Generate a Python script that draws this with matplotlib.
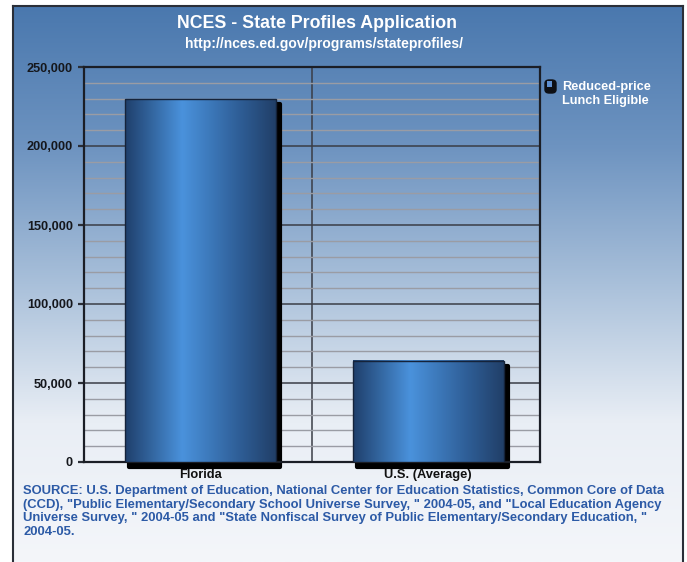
import numpy as np
import matplotlib.pyplot as plt
from matplotlib.patches import Rectangle, FancyBboxPatch
from matplotlib import transforms
from matplotlib.colors import LinearSegmentedColormap

plt.rcParams['font.family'] = ['Liberation Sans', 'DejaVu Sans']
plt.rcParams['font.weight'] = 'bold'

# data
categories = ['Florida', 'U.S. (Average)']
values = [229500, 64000]
series_name = 'Reduced-price\nLunch Eligible'
yticks = [0, 50000, 100000, 150000, 200000, 250000]
title = 'NCES - State Profiles Application'
subtitle = 'http://nces.ed.gov/programs/stateprofiles/'
source = ('SOURCE: U.S. Department of Education, National Center for Education Statistics, Common Core of Data\n'
          '(CCD), "Public Elementary/Secondary School Universe Survey, " 2004-05, and "Local Education Agency\n'
          'Universe Survey, " 2004-05 and "State Nonfiscal Survey of Public Elementary/Secondary Education, "\n'
          '2004-05.')

W, H = 687, 562
fig = plt.figure(figsize=(W / 100, H / 100), dpi=100)
fig.patch.set_facecolor('white')

# background panel with vertical gradient
bg = fig.add_axes([13 / W, 0, 670 / W, 1 - 6 / H])
bg_cmap = LinearSegmentedColormap.from_list('bg', ['#4a78ae', '#6d93c0', '#a9c0da', '#e9eef5', '#f4f6fa'])
grad = np.linspace(0, 1, 256).reshape(-1, 1)
bg.imshow(grad, aspect='auto', cmap=bg_cmap, extent=[0, 1, 0, 1], origin='upper')
bg.set_xlim(0, 1)
bg.set_ylim(0, 1)
bg.set_xticks([])
bg.set_yticks([])
for s in bg.spines.values():
    s.set_color('#2a2f38')
    s.set_linewidth(1.5)
bg.spines['bottom'].set_visible(False)

ax = fig.add_axes([84 / W, 1 - 462 / H, 456 / W, 395 / H])
ax.patch.set_alpha(0)
x = np.arange(len(categories))

# grid
ax.set_yticks(yticks)
ax.set_yticks(np.arange(0, 250001, 10000), minor=True)
ax.yaxis.grid(True, which='minor', color='#9a9ca4', linewidth=1)
ax.yaxis.grid(True, which='major', color='#3a3d46', linewidth=1.1)
ax.set_axisbelow(True)
for xd in x[:-1] + 0.5:
    ax.axvline(xd, color='#3a3d46', linewidth=1.1, zorder=0.5)

bars = ax.bar(x + 0.01, values, width=0.66, color='none', edgecolor='none', zorder=2)

bar_cmap = LinearSegmentedColormap.from_list(
    'bar', [(0, '#1f3f6b'), (0.38, '#4a92dc'), (0.75, '#2f5f98'), (1, '#213f68')])
hgrad = np.linspace(0, 1, 256).reshape(1, -1)
shadow_tr = transforms.offset_copy(ax.transData, fig=fig, x=4, y=-5, units='dots')
for b in bars:
    bx, by, bw, bh = b.get_x(), b.get_y(), b.get_width(), b.get_height()
    ax.add_patch(Rectangle((bx, by), bw, bh, facecolor='black', edgecolor='black',
                           linewidth=3, joinstyle='round', transform=shadow_tr,
                           zorder=2, clip_on=False))
    ax.imshow(hgrad, aspect='auto', cmap=bar_cmap, extent=[bx, bx + bw, by, by + bh],
              zorder=3, interpolation='bilinear')
    ax.add_patch(Rectangle((bx, by), bw, bh, facecolor='none', edgecolor='#15233a',
                           linewidth=1, zorder=4))
ax.set_xlim(-0.5, len(categories) - 0.5)
ax.set_ylim(0, 250000)

ax.set_xticks(x + 0.01)
ax.set_xticklabels(categories, fontsize=9.3, fontweight='bold', color='#111111')
ax.tick_params(axis='x', length=0, pad=5)
ax.set_yticklabels([f'{v:,}' for v in yticks], fontsize=9.2, fontweight='bold', color='#15171c')
ax.tick_params(axis='y', which='major', length=4.5, width=1.6, color='#2a2d35', pad=3.5)
ax.tick_params(axis='y', which='minor', length=0)
for s in ax.spines.values():
    s.set_color('#1b1e26')
    s.set_linewidth(1.6)

# legend
fig.patches.append(FancyBboxPatch((545 / W, 1 - 93 / H), 11 / W, 13 / H, transform=fig.transFigure,
                                  boxstyle='round,pad=0,rounding_size=0.006',
                                  facecolor='#0d0f14', edgecolor='#0d0f14', linewidth=1))
fig.patches.append(Rectangle((547 / W, 1 - 87 / H), 5 / W, 6 / H, transform=fig.transFigure,
                             facecolor='#5f8fcf', edgecolor='none'))
fig.text(562 / W, 1 - 94 / H, series_name, color='white', fontsize=9.2, fontweight='bold',
         va='center', ha='left', linespacing=1.2)

fig.text(317 / W, 1 - 24 / H, title, color='white', fontsize=12.8, fontweight='bold',
         ha='center', va='center')
fig.text(324 / W, 1 - 44 / H, subtitle, color='white', fontsize=10, fontweight='bold',
         ha='center', va='center')

fig.text(23 / W, 1 - 485 / H, source, color='#2c5aa6', fontsize=9.4, fontweight='bold',
         ha='left', va='top', linespacing=1.18)

fig.savefig('out.png', dpi=100)
